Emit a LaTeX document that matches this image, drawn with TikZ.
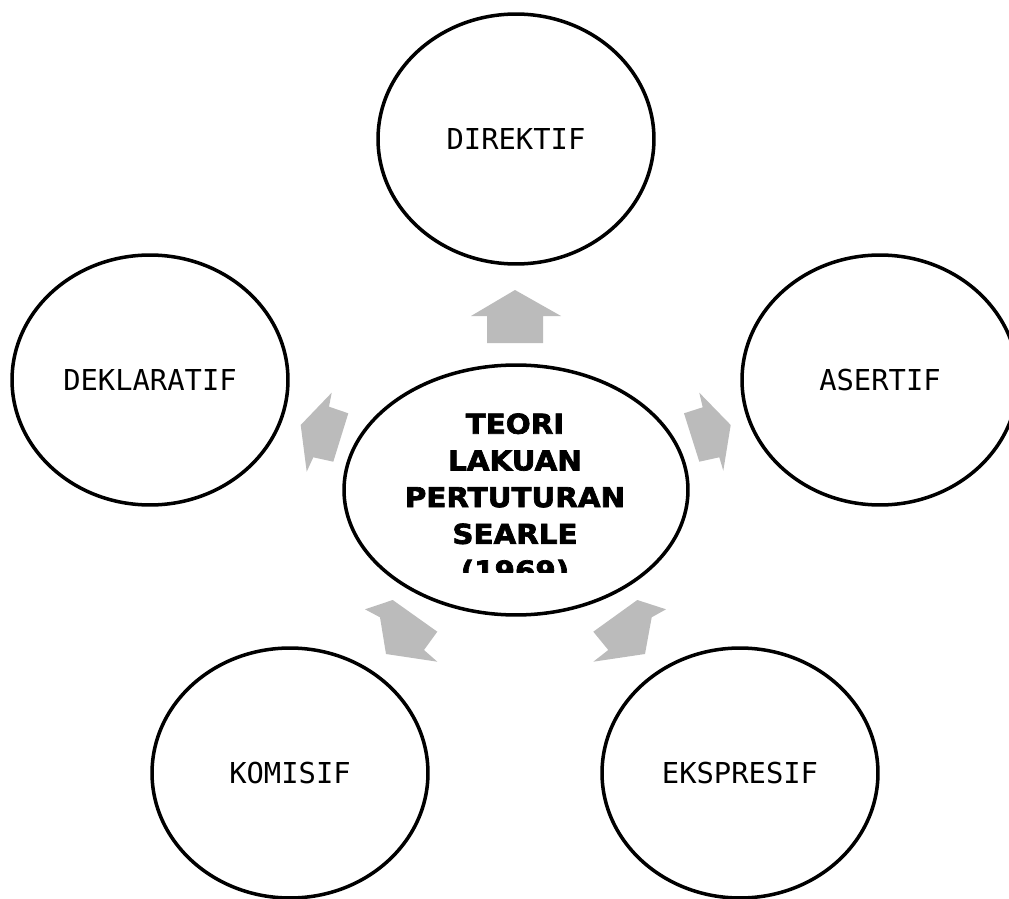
\documentclass[tikz,border=0pt]{standalone}
\usepackage{fontspec}
\usepackage{tikz}
\usetikzlibrary{shapes.geometric}
\newfontfamily\labelfont{DejaVu Sans Mono}
\newfontfamily\centrefont[FakeStretch=1.07,FakeBold=2.5]{DejaVu Sans Bold}
\definecolor{arrowgrey}{RGB}{187,187,187}

\begin{document}
\begin{tikzpicture}[x=0.02cm,y=-0.02cm,
    act/.style={draw,ellipse,line width=2pt,minimum width=5.52cm,minimum height=5cm,inner sep=0pt,
      font=\labelfont\fontsize{16.4}{19}\selectfont},
    blockarrow/.style={fill=arrowgrey,draw=none}]
          \useasboundingbox (0,0) rectangle (1009,899);

          \node[act] (DIR) at (516,139) {DIREKTIF};
          \node[act] (DEK) at (150,380) {DEKLARATIF};
          \node[act] (ASE) at (880,380) {ASERTIF};
          \node[act] (KOM) at (290,773) {KOMISIF};
          \node[act] (EKS) at (740,773) {EKSPRESIF};
          \node[act,minimum width=6.88cm] (TEO) at (516,490) {};

          \begin{scope}
            \clip (300,380) rectangle (730,572);
            \node[align=center,inner sep=0pt,anchor=north,
              font=\centrefont\fontsize{15.6}{20.9}\selectfont] (TEOtext) at (515,413)
              {TEORI\\LAKUAN\\PERTUTURAN\\SEARLE\\(1969)};
          \end{scope}

          \fill[blockarrow] (515,290) -- (561,316) -- (543,316) -- (543,343) -- (487,343) -- (487,316) -- (471,316) -- cycle;
          \fill[blockarrow] (300.7,425) -- (331.7,392.7) -- (329,406.7) -- (348.3,413.3) -- (333.3,461.7) -- (313.3,457.3) -- (306.7,471.7) -- cycle;
          \fill[blockarrow] (730.7,425) -- (699.3,392.7) -- (702.7,407.3) -- (684,413.3) -- (699.3,461.7) -- (719.3,457.3) -- (723.3,470.7) -- cycle;
          \fill[blockarrow] (365,609.3) -- (392.7,600) -- (437.3,631.7) -- (424,650) -- (437.3,661.7) -- (386,654) -- (380,617.3) -- cycle;
          \fill[blockarrow] (666,609.3) -- (637.3,600) -- (593.3,631.7) -- (608.3,650) -- (593.3,661.7) -- (645,654) -- (651.7,617.3) -- cycle;
        \end{tikzpicture}
\end{document}
